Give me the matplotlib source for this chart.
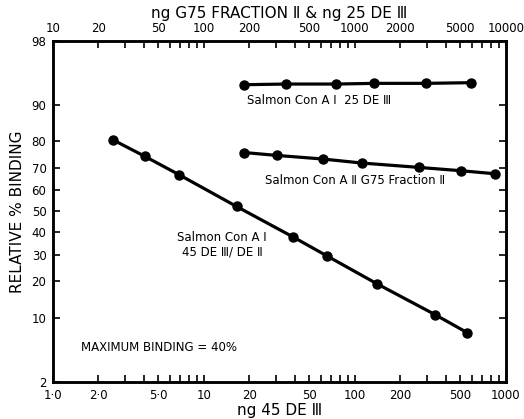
import math
import numpy as np
import matplotlib
matplotlib.use("Agg")
import matplotlib.pyplot as plt
from matplotlib.ticker import FixedLocator, FixedFormatter, LogLocator, NullFormatter

# ---------------- data ----------------
# Series on the TOP axis (ng G75 Fraction II & ng 25 DE III)
x_25de = [185, 351, 748, 1343, 2951, 5864]
y_25de = [93.6, 93.7, 93.7, 93.8, 93.8, 93.9]

x_g75 = [185, 306, 617, 1117, 2667, 5058, 8487]
y_g75 = [76.0, 74.9, 73.5, 71.9, 70.1, 68.7, 67.4]

# Series on the BOTTOM axis (ng 45 DE III)
x_45de = [2.50, 4.09, 6.86, 16.5, 39.2, 65.3, 141, 340, 557]
y_45de = [80.5, 74.5, 67.0, 52.3, 37.8, 29.6, 19.1, 10.7, 7.2]

y_ticks = [2, 10, 20, 30, 40, 50, 60, 70, 80, 90, 98]
bottom_ticks = [1, 2, 5, 10, 20, 50, 100, 200, 500, 1000]
bottom_labels = ["1·0", "2·0", "5·0", "10", "20", "50", "100", "200", "500", "1000"]
top_ticks = [10, 20, 50, 100, 200, 500, 1000, 2000, 5000, 10000]
top_labels = ["10", "20", "50", "100", "200", "500", "1000", "2000", "5000", "10000"]

# ---------------- probit scale ----------------
_a = [-3.969683028665376e+01, 2.209460984245205e+02, -2.759285104469687e+02,
      1.383577518672690e+02, -3.066479806614716e+01, 2.506628277459239e+00]
_b = [-5.447609879822406e+01, 1.615858368580409e+02, -1.556989798598866e+02,
      6.680131188771972e+01, -1.328068155288572e+01]
_c = [-7.784894002430293e-03, -3.223964580411365e-01, -2.400758277161838e+00,
      -2.549732539343734e+00, 4.374664141464968e+00, 2.938163982698783e+00]
_d = [7.784695709041462e-03, 3.224671290700398e-01, 2.445134137142996e+00,
      3.754408661907416e+00]


def _ppf(p):
    p = np.clip(np.asarray(p, dtype=float), 1e-9, 1 - 1e-9)
    plow = 0.02425
    out = np.empty_like(p)
    lo = p < plow
    hi = p > 1 - plow
    mid = ~(lo | hi)
    q = np.sqrt(-2 * np.log(p[lo]))
    out[lo] = (((((_c[0]*q+_c[1])*q+_c[2])*q+_c[3])*q+_c[4])*q+_c[5]) / \
              ((((_d[0]*q+_d[1])*q+_d[2])*q+_d[3])*q+1)
    q = np.sqrt(-2 * np.log(1 - p[hi]))
    out[hi] = -(((((_c[0]*q+_c[1])*q+_c[2])*q+_c[3])*q+_c[4])*q+_c[5]) / \
               ((((_d[0]*q+_d[1])*q+_d[2])*q+_d[3])*q+1)
    q = p[mid] - 0.5
    r = q * q
    out[mid] = (((((_a[0]*r+_a[1])*r+_a[2])*r+_a[3])*r+_a[4])*r+_a[5])*q / \
               (((((_b[0]*r+_b[1])*r+_b[2])*r+_b[3])*r+_b[4])*r+1)
    return out


_erf = np.vectorize(math.erf)


def fwd(pct):
    return _ppf(np.asarray(pct, dtype=float) / 100.0)


def inv(z):
    z = np.asarray(z, dtype=float)
    return 50.0 * (1.0 + _erf(z / math.sqrt(2.0)))


# ---------------- figure ----------------
W, H = 524, 419
fig = plt.figure(figsize=(W / 100, H / 100), dpi=100)
fig.patch.set_facecolor("white")
ax = fig.add_axes([52.7 / W, 1 - 382 / H, (505.7 - 52.7) / W, (382 - 40.5) / H])

ax.set_xscale("log")
ax.set_yscale("function", functions=(fwd, inv))
ax.set_xlim(1, 1000)
ax.set_ylim(2, 98)

axt = ax.twiny()
axt.set_xscale("log")
axt.set_xlim(10, 10000)

lw = 2.3
ms = 6.5
ax.plot(x_45de, y_45de, "-o", color="black", lw=lw, ms=ms)
axt.plot(x_25de, y_25de, "-o", color="black", lw=lw, ms=ms)
axt.plot(x_g75, y_g75, "-o", color="black", lw=lw, ms=ms)

fs_tick = 8.5
ax.yaxis.set_major_locator(FixedLocator(y_ticks))
ax.yaxis.set_major_formatter(FixedFormatter([str(v) for v in y_ticks]))
ax.yaxis.set_minor_locator(FixedLocator([]))

ax.xaxis.set_major_locator(FixedLocator(bottom_ticks))
ax.xaxis.set_major_formatter(FixedFormatter(bottom_labels))
ax.xaxis.set_minor_locator(LogLocator(base=10, subs=np.arange(2, 10)))
ax.xaxis.set_minor_formatter(NullFormatter())

axt.xaxis.set_major_locator(FixedLocator(top_ticks))
axt.xaxis.set_major_formatter(FixedFormatter(top_labels))
axt.xaxis.set_minor_locator(LogLocator(base=10, subs=np.arange(2, 10)))
axt.xaxis.set_minor_formatter(NullFormatter())

ax.tick_params(axis="both", which="both", direction="in", length=5, width=1.2,
               labelsize=fs_tick, colors="black")
ax.tick_params(axis="y", which="both", right=True, labelright=False, pad=4.5)
ax.tick_params(axis="x", which="both", top=False, pad=5)
axt.tick_params(axis="x", which="both", direction="in", length=5, width=1.2,
                labelsize=fs_tick, pad=4)

for a in (ax, axt):
    for s in a.spines.values():
        s.set_linewidth(1.8)
        s.set_color("black")

ax.set_ylabel("RELATIVE % BINDING", fontsize=11, labelpad=5)
ax.set_xlabel("ng 45 DE Ⅲ", fontsize=11, labelpad=1)
axt.set_xlabel("ng G75 FRACTION Ⅱ & ng 25 DE Ⅲ", fontsize=11, labelpad=3)

fs_ann = 8.5
fig.text(247 / W, 1 - 101 / H, "Salmon Con A Ⅰ  25 DE Ⅲ", fontsize=fs_ann,
         ha="left", va="center")
fig.text(265 / W, 1 - 180 / H, "Salmon Con A Ⅱ G75 Fraction Ⅱ", fontsize=fs_ann,
         ha="left", va="center")
fig.text(222 / W, 1 - 237 / H, "Salmon Con A Ⅰ", fontsize=fs_ann,
         ha="center", va="center")
fig.text(222 / W, 1 - 252 / H, "45 DE Ⅲ/ DE Ⅱ", fontsize=fs_ann,
         ha="center", va="center")
fig.text(81 / W, 1 - 347 / H, "MAXIMUM BINDING = 40%", fontsize=fs_ann,
         ha="left", va="center")

fig.savefig("out.png", dpi=100, facecolor="white")
